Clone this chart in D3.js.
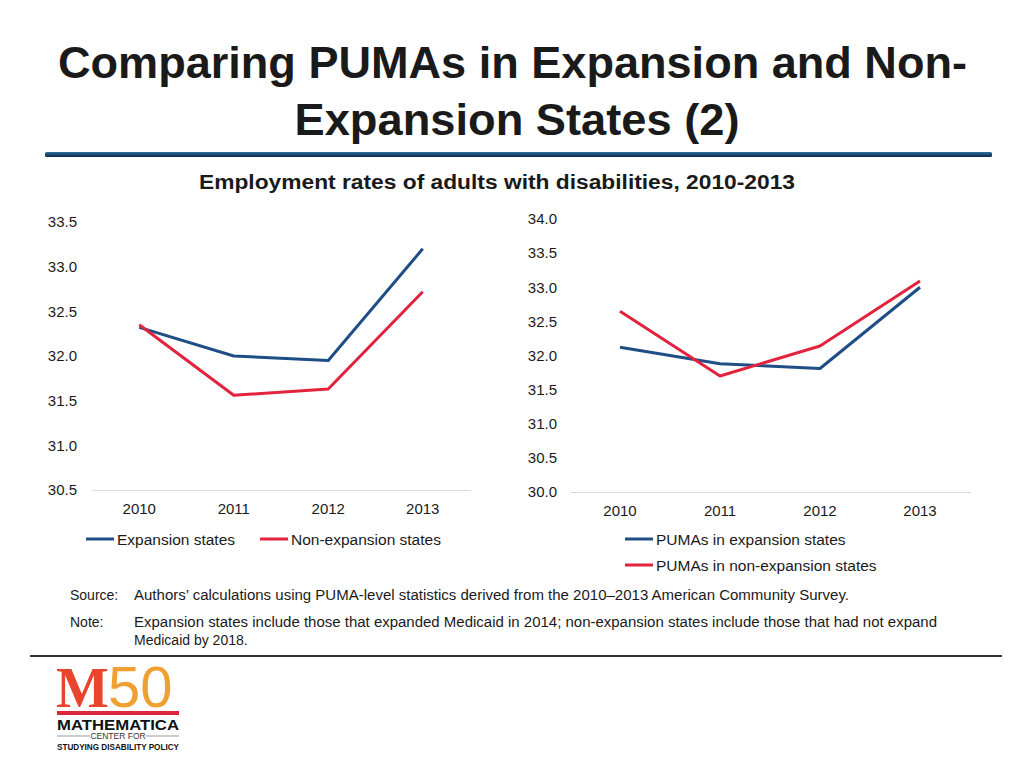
<!DOCTYPE html>
<html><head><meta charset="utf-8">
<script src="https://cdn.jsdelivr.net/npm/d3@7"></script>
<style>body{margin:0;background:#fff;} svg{display:block;font-family:"Liberation Sans",Arial,Helvetica,sans-serif;}</style>
</head><body><svg id="c" width="1024" height="768"></svg>
<script>
// ---- data ----
const years = ["2010", "2011", "2012", "2013"];
const leftExpansion = [32.32, 32.0, 31.95, 33.2];
const leftNonExpansion = [32.35, 31.56, 31.63, 32.72];
const rightPumaExpansion = [32.12, 31.88, 31.81, 33.0];
const rightPumaNonExpansion = [32.65, 31.70, 32.14, 33.09];
const leftTicks = [30.5, 31.0, 31.5, 32.0, 32.5, 33.0, 33.5];
const rightTicks = [30.0, 30.5, 31.0, 31.5, 32.0, 32.5, 33.0, 33.5, 34.0];
const leftSeriesNames = ["Expansion states", "Non-expansion states"];
const rightSeriesNames = ["PUMAs in expansion states", "PUMAs in non-expansion states"];

const BLUE = "#1f4e87", RED = "#e2233d", TXT = "#1a1a1a";
const svg = d3.select("#c");

function fitText(sel, w) {
  const n = sel.node();
  const L = n.getComputedTextLength();
  if (Math.abs(L - w) > 1) sel.attr("textLength", w).attr("lengthAdjust", "spacingAndGlyphs");
  return sel;
}

// ---- title ----
fitText(svg.append("text").attr("x", 512.5).attr("y", 78).attr("text-anchor", "middle")
  .attr("font-size", 44).attr("font-weight", "bold").attr("fill", TXT)
  .text("Comparing PUMAs in Expansion and Non-"), 909);
fitText(svg.append("text").attr("x", 517).attr("y", 135).attr("text-anchor", "middle")
  .attr("font-size", 44).attr("font-weight", "bold").attr("fill", TXT)
  .text("Expansion States (2)"), 445);

const grad = svg.append("defs").append("linearGradient").attr("id", "rule")
  .attr("x1", 0).attr("y1", 0).attr("x2", 0).attr("y2", 1);
grad.append("stop").attr("offset", "0%").attr("stop-color", "#2f6f9c");
grad.append("stop").attr("offset", "100%").attr("stop-color", "#0c2a45");
svg.append("rect").attr("x", 45).attr("y", 152).attr("width", 947).attr("height", 5)
  .attr("rx", 1.5).attr("fill", "url(#rule)");

fitText(svg.append("text").attr("x", 497).attr("y", 189).attr("text-anchor", "middle")
  .attr("font-size", 20).attr("font-weight", "bold").attr("fill", TXT)
  .text("Employment rates of adults with disabilities, 2010-2013"), 596);

// ---- charts ----
function drawChart(cfg) {
  const x = d3.scaleBand().domain(years).range([cfg.x0, cfg.x1]);
  const y = d3.scaleLinear().domain(cfg.domain).range([cfg.yb, cfg.yt]);
  const g = svg.append("g");
  const ya = g.append("g").attr("transform", `translate(${cfg.x0},0)`)
    .call(d3.axisLeft(y).tickValues(cfg.ticks).tickFormat(d3.format(".1f")).tickSize(0).tickPadding(cfg.x0 - cfg.labelRight));
  ya.select(".domain").remove();
  ya.selectAll("text").attr("font-size", 15).attr("fill", TXT).attr("font-family", null);
  const xa = g.append("g").attr("transform", `translate(0,${cfg.yb})`)
    .call(d3.axisBottom(x).tickSize(0).tickSizeOuter(0).tickPadding(cfg.xPad));
  xa.select(".domain").attr("stroke", "#d9d9d9").attr("stroke-width", 1);
  xa.selectAll("text").attr("font-size", 15).attr("fill", TXT).attr("font-family", null);
  const line = d3.line().x((d, i) => x(years[i]) + x.bandwidth() / 2).y(d => y(d));
  cfg.series.forEach((s, k) => {
    g.append("path").datum(s).attr("d", line).attr("fill", "none")
      .attr("stroke", cfg.colors[k]).attr("stroke-width", 3).attr("stroke-linejoin", "round");
  });
  cfg.legend.forEach((L, k) => {
    g.append("line").attr("x1", L[0]).attr("x2", L[0] + 28).attr("y1", L[1]).attr("y2", L[1])
      .attr("stroke", cfg.colors[k]).attr("stroke-width", 3);
    g.append("text").attr("x", L[0] + 31).attr("y", L[1] + 5.5).attr("font-size", 15.5)
      .attr("fill", TXT).text(cfg.names[k]);
  });
}

drawChart({x0: 92, x1: 470, yb: 490, yt: 222, domain: [30.5, 33.5], ticks: leftTicks, labelRight: 77, xPad: 13,
  series: [leftExpansion, leftNonExpansion], colors: [BLUE, RED], names: leftSeriesNames,
  legend: [[86, 539], [260, 539]]});
drawChart({x0: 570, x1: 970, yb: 492, yt: 219, domain: [30, 34], ticks: rightTicks, labelRight: 557, xPad: 13,
  series: [rightPumaExpansion, rightPumaNonExpansion], colors: [BLUE, RED], names: rightSeriesNames,
  legend: [[625, 539], [625, 565]]});

// ---- notes ----
const notes = svg.append("g").attr("font-size", 14).attr("fill", TXT);
notes.append("text").attr("x", 70).attr("y", 600).text("Source:");
fitText(notes.append("text").attr("x", 134).attr("y", 600)
  .text("Authors\u2019 calculations using PUMA-level statistics derived from the 2010\u20132013 American Community Survey."), 715);
notes.append("text").attr("x", 70).attr("y", 627).text("Note:");
fitText(notes.append("text").attr("x", 134).attr("y", 627)
  .text("Expansion states include those that expanded Medicaid in 2014; non-expansion states include those that had not expand"), 803);
notes.append("text").attr("x", 134).attr("y", 645).text("Medicaid by 2018.");

svg.append("rect").attr("x", 30).attr("y", 655).attr("width", 972).attr("height", 2).attr("fill", "#333");

// ---- logo ----
const logo = svg.append("g");
logo.append("text").attr("x", 56).attr("y", 707).attr("font-size", 56).attr("font-weight", "bold")
  .attr("font-family", "'Liberation Serif', serif").attr("fill", "#e8452c").text("M");
logo.append("text").attr("x", 108).attr("y", 707).attr("font-size", 58)
  .attr("fill", "#f0a030").text("50");
logo.append("rect").attr("x", 57).attr("y", 711).attr("width", 122).attr("height", 4).attr("fill", "#d9263a");
fitText(logo.append("text").attr("x", 57).attr("y", 730).attr("font-size", 15).attr("font-weight", "900")
  .attr("fill", "#111").text("MATHEMATICA"), 122);
logo.append("line").attr("x1", 57).attr("x2", 90).attr("y1", 736).attr("y2", 736).attr("stroke", "#999");
logo.append("line").attr("x1", 146).attr("x2", 179).attr("y1", 736).attr("y2", 736).attr("stroke", "#999");
logo.append("text").attr("x", 118).attr("y", 739).attr("text-anchor", "middle").attr("font-size", 8.5)
  .attr("fill", "#333").text("CENTER FOR");
fitText(logo.append("text").attr("x", 57).attr("y", 750).attr("font-size", 8.5).attr("font-weight", "bold")
  .attr("fill", "#111").text("STUDYING DISABILITY POLICY"), 122);
</script></body></html>
